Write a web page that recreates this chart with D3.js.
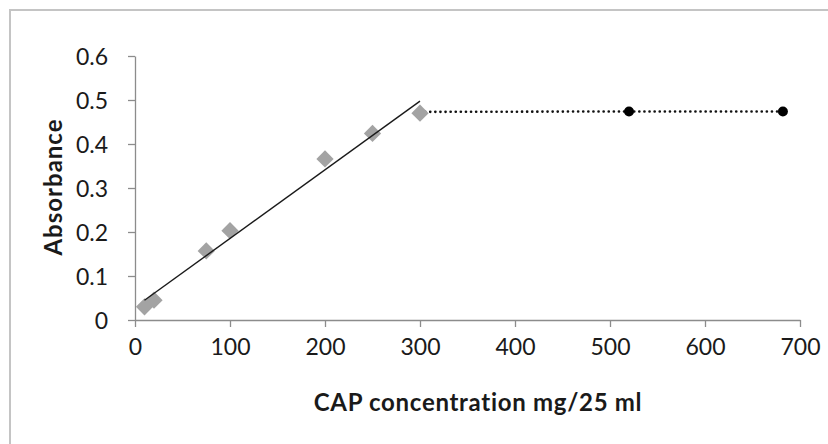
<!DOCTYPE html>
<html>
<head>
<meta charset="utf-8">
<script src="https://d3js.org/d3.v7.min.js"></script>
<style>
  body { margin: 0; background: #fff; }
  text { font-family: Lato, "Open Sans", sans-serif; fill: #1a1a1a; }
</style>
</head>
<body>
<script>
// data
var concentration = [10, 20, 75, 100, 200, 250, 300];
var absorbance = [0.03, 0.045, 0.157, 0.203, 0.366, 0.424, 0.47];
var plateauX = [300, 520, 682];
var plateauY = [0.473, 0.474, 0.474];
var xTicks = [0, 100, 200, 300, 400, 500, 600, 700];
var yTicks = [0, 0.1, 0.2, 0.3, 0.4, 0.5, 0.6];

var w = 828, h = 444;
var svg = d3.select("body").append("svg")
  .attr("width", w)
  .attr("height", h);

// chart area frame (cut off at right and bottom)
svg.append("rect")
  .attr("x", 10).attr("y", 10)
  .attr("width", 830).attr("height", 450)
  .attr("fill", "#fff")
  .attr("stroke", "#c4c4c4")
  .attr("stroke-width", 2);

var x = d3.scaleLinear().domain([0, 700]).range([135, 800]);
var y = d3.scaleLinear().domain([0, 0.6]).range([320, 56]);

// axes
var xAxis = svg.append("g")
  .attr("transform", "translate(0," + y(0) + ")")
  .call(d3.axisBottom(x).tickValues(xTicks).tickSize(7).tickSizeOuter(0).tickPadding(12));
var yAxis = svg.append("g")
  .attr("transform", "translate(" + x(0) + ",0)")
  .call(d3.axisLeft(y).tickValues(yTicks).tickSize(7).tickSizeOuter(0).tickPadding(20)
    .tickFormat(function(d){ return d === 0 ? "0" : d3.format(".1f")(d); }));

[xAxis, yAxis].forEach(function(a){
  a.select(".domain").attr("stroke", "#8c8c8c").attr("stroke-width", 1.3);
  a.selectAll(".tick line").attr("stroke", "#8c8c8c").attr("stroke-width", 1.3);
  a.selectAll(".tick text").style("font-size", "23px").attr("fill", "#1a1a1a");
});
yAxis.selectAll(".tick text").attr("dy", "0.35em");

// dotted plateau (drawn first so the last diamond sits on top of its start)
var line = d3.line()
  .x(function(d){ return x(d); })
  .y(function(d, i){ return y(plateauY[i]); });
svg.append("path")
  .datum(plateauX)
  .attr("d", line)
  .attr("fill", "none")
  .attr("stroke", "#111")
  .attr("stroke-width", 2.6)
  .attr("stroke-linecap", "round")
  .attr("stroke-dasharray", "0.1,5");

// linear trend line through the diamonds
var mx = d3.mean(concentration), my = d3.mean(absorbance);
var sxy = d3.sum(concentration, function(d, i){ return (d - mx) * (absorbance[i] - my); });
var sxx = d3.sum(concentration, function(d){ return (d - mx) * (d - mx); });
var slope = sxy / sxx, icpt = my - slope * mx;
var x0 = d3.min(concentration), x1 = d3.max(concentration);

// diamonds
svg.selectAll(".dia")
  .data(concentration)
  .enter().append("path")
  .attr("class", "dia")
  .attr("d", d3.symbol().type(d3.symbolDiamond2).size(190))
  .attr("transform", function(d, i){ return "translate(" + x(d) + "," + y(absorbance[i]) + ")"; })
  .attr("fill", "#a3a3a3");

svg.append("line")
  .attr("x1", x(x0)).attr("y1", y(icpt + slope * x0))
  .attr("x2", x(x1)).attr("y2", y(icpt + slope * x1))
  .attr("stroke", "#1a1a1a")
  .attr("stroke-width", 1.4);

svg.selectAll(".dot")
  .data(plateauX.slice(1))
  .enter().append("circle")
  .attr("cx", function(d){ return x(d); })
  .attr("cy", function(d, i){ return y(plateauY[i + 1]); })
  .attr("r", 5)
  .attr("fill", "#000");

// axis titles
svg.append("text")
  .attr("x", 478)
  .attr("y", 403)
  .attr("dy", "0.35em")
  .attr("text-anchor", "middle")
  .style("font-size", "24px")
  .style("font-weight", "bold")
  .style("letter-spacing", "0.7px")
  .text("CAP concentration mg/25 ml");

svg.append("text")
  .attr("transform", "translate(54,187) rotate(-90)")
  .attr("dy", "0.35em")
  .attr("text-anchor", "middle")
  .style("font-size", "24px")
  .style("font-weight", "bold")
  .style("letter-spacing", "1px")
  .text("Absorbance");
</script>
</body>
</html>
